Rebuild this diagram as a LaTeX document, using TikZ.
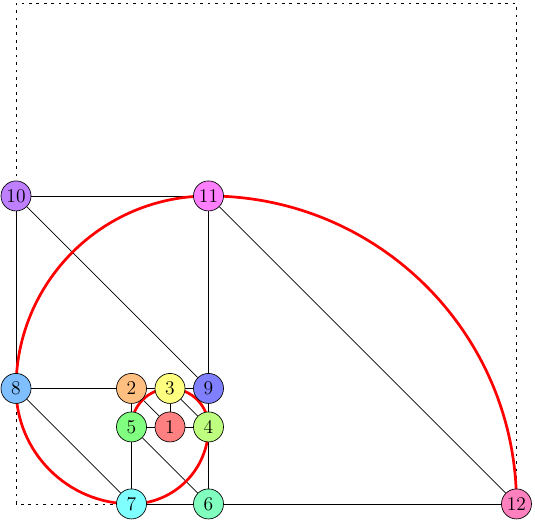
\documentclass[tikz,border=0pt]{standalone}
\usepackage{xcolor}
\usepackage{tikz}
\usetikzlibrary{positioning, calc, backgrounds}
\definecolor{fbRed}{HTML}{FF8080}
\definecolor{fbOrange}{HTML}{FFBF80}
\definecolor{fbYellow}{HTML}{FFFF80}
\definecolor{fbLime}{HTML}{BFFF80}
\definecolor{fbGreen}{HTML}{80FF80}
\definecolor{fbSpring}{HTML}{80FFBF}
\definecolor{fbCyan}{HTML}{80FFFF}
\definecolor{fbAzure}{HTML}{80BFFF}
\definecolor{fbBlue}{HTML}{8080FF}
\definecolor{fbViolet}{HTML}{BF80FF}
\definecolor{fbMagenta}{HTML}{FF80FF}
\definecolor{fbRose}{HTML}{FF80BF}

\begin{document}
\begin{tikzpicture}[
  vert/.style={circle, draw=black, line width=0.5pt, minimum size=0.78cm, inner sep=0pt,
               font=\Large},
  edge/.style={line width=0.5pt, color=black},
  frame/.style={line width=0.5pt, dash pattern=on 2pt off 3.5pt},
  spiral/.style={line width=2pt, color=red}
]
\useasboundingbox (-4.416,-2.442) rectangle (9.481,11.09);

% vertices of the squares
\node[vert, fill=fbRed] (n1) at (0,0) {1};
\node[vert, fill=fbOrange] (n2) at (-1,1) {2};
\node[vert, fill=fbYellow] (n3) at (0,1) {3};
\node[vert, fill=fbLime] (n4) at (1,0) {4};
\node[vert, fill=fbGreen] (n5) at (-1,0) {5};
\node[vert, fill=fbSpring] (n6) at (1,-2) {6};
\node[vert, fill=fbCyan] (n7) at (-1,-2) {7};
\node[vert, fill=fbAzure] (n8) at (-4,1) {8};
\node[vert, fill=fbBlue] (n9) at (1,1) {9};
\node[vert, fill=fbViolet] (n10) at (-4,6) {10};
\node[vert, fill=fbMagenta] (n11) at (1,6) {11};
\node[vert, fill=fbRose] (n12) at (9,-2) {12};

\begin{pgfonlayer}{background}
\draw[frame] (-4,-2) rectangle (9,11);

% sides and diagonals
\draw[edge] (n10) -- (n11);
\draw[edge] (n10) -- (n8);
\draw[edge] (n10) -- (n9);
\draw[edge] (n11) -- (n9);
\draw[edge] (n11) -- (n12);
\draw[edge] (n8) -- (n2);
\draw[edge] (n8) -- (n7);
\draw[edge] (n2) -- (n3);
\draw[edge] (n3) -- (n9);
\draw[edge] (n2) -- (n5);
\draw[edge] (n2) -- (n1);
\draw[edge] (n3) -- (n1);
\draw[edge] (n3) -- (n4);
\draw[edge] (n9) -- (n4);
\draw[edge] (n5) -- (n1);
\draw[edge] (n1) -- (n4);
\draw[edge] (n5) -- (n7);
\draw[edge] (n5) -- (n6);
\draw[edge] (n4) -- (n6);
\draw[edge] (n7) -- (n6);
\draw[edge] (n6) -- (n12);

% the spiral
\draw[spiral] (n12.center) arc[start angle=0, end angle=90, radius=8]
  arc[start angle=90, end angle=180, radius=5]
  arc[start angle=180, end angle=270, radius=3]
  arc[start angle=270, end angle=360, radius=2]
  arc[start angle=0, end angle=180, radius=1];
\end{pgfonlayer}
\end{tikzpicture}
\end{document}
